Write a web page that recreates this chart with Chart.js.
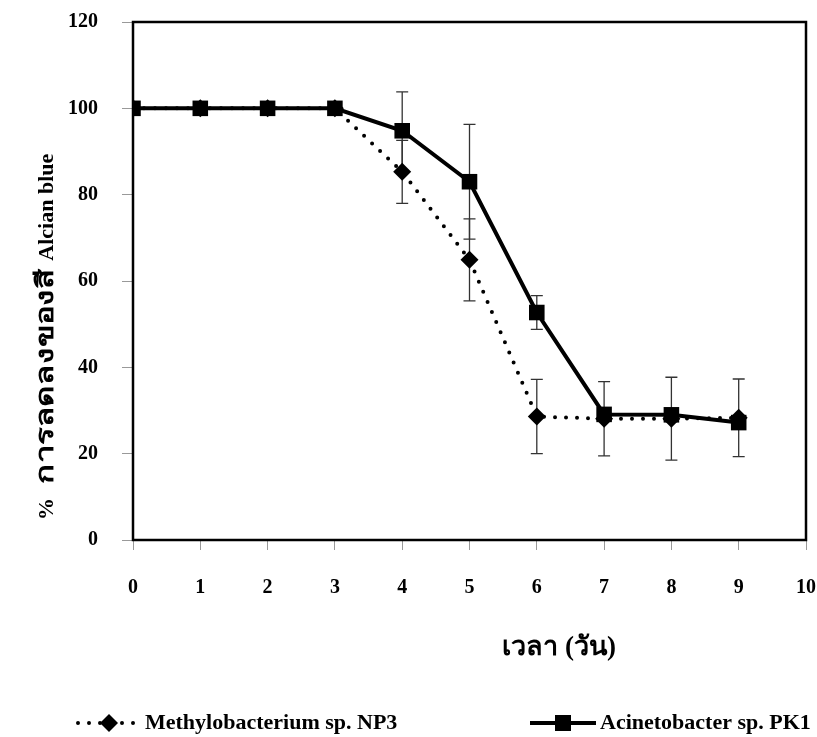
<!DOCTYPE html>
<html>
<head>
<meta charset="utf-8">
<script src="https://cdn.jsdelivr.net/npm/chart.js@4.4.1/dist/chart.umd.min.js"></script>
<style>
  html, body { margin: 0; padding: 0; background: #fff; }
  #wrap { width: 817px; height: 737px; }
</style>
</head>
<body>
<div id="wrap"><canvas id="myChart" width="817" height="737"></canvas></div>
<script>
"use strict";

// วัน (days)
const days = [0, 1, 2, 3, 4, 5, 6, 7, 8, 9];

// % การลดลงของสี Alcian blue
const methyloMean = [100, 100, 100, 100, 85.3, 64.9, 28.6, 28.1, 28.1, 28.3];
const methyloErr = [0, 0, 0, 0, 7.3, 9.5, 8.6, 8.6, 9.6, 9.0];
const acinetoMean = [100, 100, 100, 100, 94.8, 83.0, 52.7, 29.1, 29.0, 27.2];
const acinetoErr = [0, 0, 0, 0, 9.0, 13.3, 3.9, 0, 0, 0];

const xTicks = [0, 1, 2, 3, 4, 5, 6, 7, 8, 9, 10];
const yTicks = [0, 20, 40, 60, 80, 100, 120];

const seriesNames = ["Methylobacterium sp. NP3", "Acinetobacter sp. PK1"];
const yTitleParts = ["%", "การลดลงของสี", "Alcian blue"];
const xTitle = "เวลา (วัน)";

const serif = "'Liberation Serif', 'Times New Roman', serif";

function toPoints(xs, ys, errs) {
  let data = [];
  for (let i = 0; i < xs.length; i++) {
    data.push({ x: xs[i], y: ys[i], err: errs[i] });
  }
  return data;
}

// no extra room for tick labels; the layout padding decides the plot box
function noLabelPadding(scale) {
  scale.paddingTop = 0;
  scale.paddingBottom = 0;
  scale.paddingLeft = 0;
  scale.paddingRight = 0;
}

// error bars, frame, axis titles and the legend row
const decorPlugin = {
  id: "decor",
  beforeDatasetsDraw(chart) {
    const ctx = chart.ctx;
    const xs = chart.scales.x;
    const ys = chart.scales.y;
    ctx.save();
    ctx.strokeStyle = "#333";
    ctx.lineWidth = 1.3;
    chart.data.datasets.forEach((ds) => {
      ds.data.forEach((p) => {
        if (!p.err) return;
        const px = xs.getPixelForValue(p.x);
        const top = ys.getPixelForValue(p.y + p.err);
        const bot = ys.getPixelForValue(p.y - p.err);
        ctx.beginPath();
        ctx.moveTo(px, top);
        ctx.lineTo(px, bot);
        ctx.moveTo(px - 6, top);
        ctx.lineTo(px + 6, top);
        ctx.moveTo(px - 6, bot);
        ctx.lineTo(px + 6, bot);
        ctx.stroke();
      });
    });
    ctx.restore();
  },
  afterDraw(chart) {
    const ctx = chart.ctx;
    const a = chart.chartArea;
    ctx.save();

    // plot frame
    ctx.strokeStyle = "#000";
    ctx.lineWidth = 2.5;
    ctx.strokeRect(a.left, a.top, a.right - a.left, a.bottom - a.top);

    // y title, written upward from the "%" sign
    ctx.fillStyle = "#000";
    ctx.textBaseline = "alphabetic";
    ctx.textAlign = "left";
    ctx.save();
    ctx.translate(53, 520);
    ctx.rotate(-Math.PI / 2);
    const fonts = ["bold 22px " + serif, "bold 24px " + serif, "bold 22px " + serif];
    const stretch = [1, 1.38, 1];
    const gaps = [14, 8, 0];
    let pos = 0;
    yTitleParts.forEach((t, i) => {
      ctx.font = fonts[i];
      ctx.save();
      ctx.translate(pos, 0);
      ctx.scale(stretch[i], 1);
      ctx.fillText(t, 0, 0);
      ctx.restore();
      pos += ctx.measureText(t).width * stretch[i] + gaps[i];
    });
    ctx.restore();

    // x title
    ctx.textAlign = "center";
    ctx.textBaseline = "middle";
    ctx.font = "bold 27px " + serif;
    ctx.fillText(xTitle, 559, 648);

    // legend
    const ly = 723;
    const dsets = chart.data.datasets;
    ctx.font = "bold 22px " + serif;
    ctx.textAlign = "left";

    ctx.save();
    ctx.lineWidth = 4;
    ctx.lineCap = "round";
    ctx.setLineDash([0, 11]);
    ctx.beginPath();
    ctx.moveTo(78, ly);
    ctx.lineTo(140, ly);
    ctx.stroke();
    ctx.restore();
    ctx.beginPath();
    ctx.moveTo(109, ly - 9);
    ctx.lineTo(118, ly);
    ctx.lineTo(109, ly + 9);
    ctx.lineTo(100, ly);
    ctx.closePath();
    ctx.fill();
    ctx.fillText(dsets[0].label, 145, ly);

    ctx.lineWidth = 4;
    ctx.beginPath();
    ctx.moveTo(530, ly);
    ctx.lineTo(596, ly);
    ctx.stroke();
    ctx.fillRect(555, ly - 8, 16, 16);
    ctx.fillText(dsets[1].label, 600, ly);

    ctx.restore();
  },
};

const ctx = document.getElementById("myChart").getContext("2d");
const myChart = new Chart(ctx, {
  type: "line",
  data: {
    datasets: [
      {
        label: seriesNames[0],
        data: toPoints(days, methyloMean, methyloErr),
        borderColor: "#000",
        backgroundColor: "#000",
        borderWidth: 4,
        borderDash: [0, 11],
        borderCapStyle: "round",
        pointStyle: "rectRot",
        pointRadius: 9,
        pointBorderWidth: 0,
        tension: 0,
      },
      {
        label: seriesNames[1],
        data: toPoints(days, acinetoMean, acinetoErr),
        borderColor: "#000",
        backgroundColor: "#000",
        borderWidth: 4,
        pointStyle: "rect",
        pointRadius: 11,
        pointBorderWidth: 0,
        tension: 0,
      },
    ],
  },
  options: {
    responsive: false,
    animation: false,
    layout: { padding: { top: 22, right: 11, bottom: 0, left: 0 } },
    plugins: {
      legend: { display: false },
      tooltip: { enabled: false },
    },
    scales: {
      x: {
        type: "linear",
        min: 0,
        max: 10,
        afterBuildTicks: (scale) => {
          scale.ticks = xTicks.map((v) => ({ value: v }));
        },
        afterFit: (scale) => {
          scale.height = 197;
          noLabelPadding(scale);
        },
        grid: { drawOnChartArea: false, tickLength: 10, color: "#999" },
        border: { display: false },
        ticks: {
          padding: 26,
          color: "#000",
          font: { family: serif, size: 20, weight: "bold" },
        },
      },
      y: {
        min: 0,
        max: 120,
        afterBuildTicks: (scale) => {
          scale.ticks = yTicks.map((v) => ({ value: v }));
        },
        afterFit: (scale) => {
          scale.width = 133;
          noLabelPadding(scale);
        },
        grid: { drawOnChartArea: false, tickLength: 11, color: "#999" },
        border: { display: false },
        ticks: {
          padding: 24,
          color: "#000",
          font: { family: serif, size: 20, weight: "bold" },
        },
      },
    },
  },
  plugins: [decorPlugin],
});
</script>
</body>
</html>
